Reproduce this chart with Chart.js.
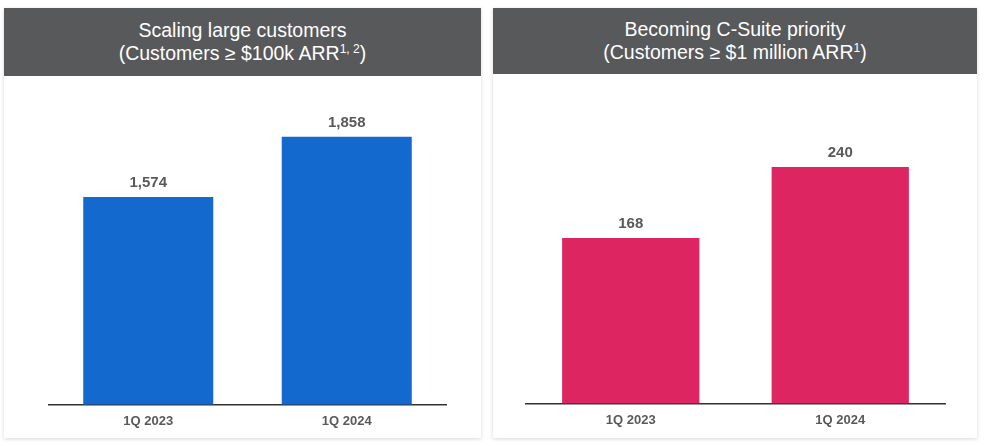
<!DOCTYPE html>
<html>
<head>
<meta charset="utf-8">
<script src="https://cdn.jsdelivr.net/npm/chart.js@4"></script>
<style>
  html, body { margin: 0; padding: 0; background: #ffffff; }
  body { width: 984px; height: 447px; position: relative; overflow: hidden; font-family: "Liberation Sans", Arial, sans-serif; }
  .card { position: absolute; background: #fff; box-shadow: 0 1px 4px rgba(0,0,0,0.16); }
  .hdr { position: absolute; left: 0; top: 0; right: 0; background: #58595b; color: #fff; font-size: 19.5px; line-height: 23px; text-align: center; display: flex; flex-direction: column; justify-content: center; }
  .hdr sup { font-size: 0.62em; line-height: 0; vertical-align: 0.55em; }
  .cv { position: absolute; left: 0; }
</style>
</head>
<body>
<div class="card" id="c1" style="left:4px; top:8px; width:477px; height:430px;">
  <div class="hdr" style="height:68px;"><div>Scaling large customers</div><div>(Customers ≥ $100k ARR<sup>1, 2</sup>)</div></div>
  <div class="cv" style="top:68px; width:477px; height:362px;"><canvas id="ch1"></canvas></div>
</div>
<div class="card" id="c2" style="left:493px; top:8px; width:484px; height:430px;">
  <div class="hdr" style="height:66px;"><div>Becoming C-Suite priority</div><div>(Customers ≥ $1 million ARR<sup>1</sup>)</div></div>
  <div class="cv" style="top:66px; width:484px; height:364px;"><canvas id="ch2"></canvas></div>
</div>
<script>
const categories = ["1Q 2023", "1Q 2024"];
const customers100k = [1574, 1858];
const customers1m = [168, 240];

const valueLabels = {
  id: 'valueLabels',
  afterDatasetsDraw(chart) {
    const ctx = chart.ctx;
    ctx.save();
    ctx.font = 'bold 15px "Liberation Sans", Arial, sans-serif';
    ctx.fillStyle = '#595959';
    ctx.textAlign = 'center';
    ctx.textBaseline = 'middle';
    chart.data.datasets.forEach((ds, i) => {
      chart.getDatasetMeta(i).data.forEach((bar, j) => {
        ctx.fillText(ds.data[j].toLocaleString('en-US'), bar.x, bar.y - 14);
      });
    });
    ctx.restore();
  }
};

function makeChart(id, values, color, yMin, yMax, pad) {
  new Chart(document.getElementById(id), {
    type: 'bar',
    data: { labels: categories, datasets: [{ data: values, backgroundColor: color, barPercentage: 0.655, categoryPercentage: 1 }] },
    options: {
      responsive: true, maintainAspectRatio: false, animation: false,
      layout: { padding: pad },
      plugins: { legend: { display: false }, tooltip: { enabled: false } },
      scales: {
        x: {
          grid: { display: false, drawTicks: false },
          border: { display: true, color: '#333333', width: 1.5 },
          ticks: { padding: 9, color: '#595959', font: { family: '"Liberation Sans", Arial, sans-serif', size: 13, weight: 'bold' } }
        },
        y: { display: false, min: yMin, max: yMax }
      }
    },
    plugins: [valueLabels]
  });
}

makeChart('ch1', customers100k, '#1369cd', 593, 2032, { left: 45, right: 35, top: 24, bottom: 0 });
makeChart('ch2', customers1m, '#dc2561', 0, 308, { left: 33, right: 32, top: 26, bottom: 1 });
</script>
</body>
</html>
